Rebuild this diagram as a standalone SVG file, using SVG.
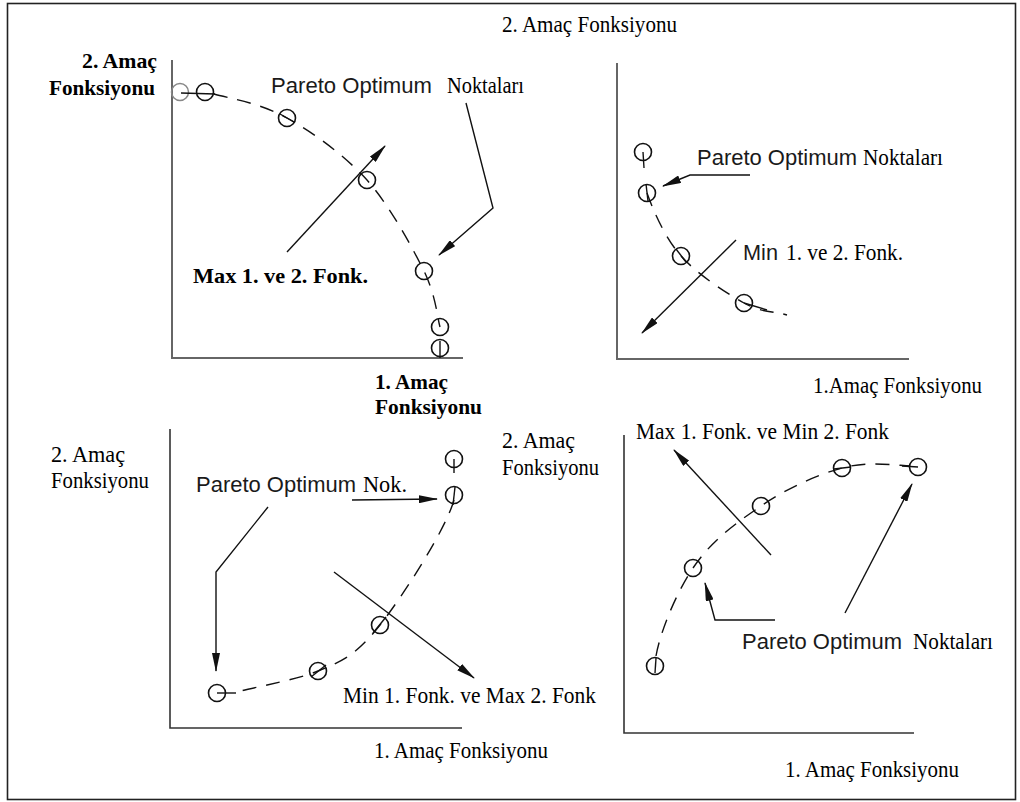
<svg xmlns="http://www.w3.org/2000/svg" width="1020" height="802" viewBox="0 0 1020 802">
<defs>
<style>
.s{font-family:"Liberation Serif","Times New Roman",serif;font-size:22.5px;fill:#000}
.b{font-weight:bold;font-size:22px}
.a{font-family:"Liberation Sans",Arial,sans-serif;font-size:22px;fill:#1a1a1a}
.ax1{stroke:#666;stroke-width:2;fill:none}
.ax2{stroke:#333;stroke-width:1.6;fill:none}
.crv{stroke:#111;stroke-width:1.4;fill:none;stroke-dasharray:14 10}
.pt{stroke:#111;stroke-width:1.6;fill:none}
.in{stroke:#111;stroke-width:1.4;fill:none}
.arr{stroke:#111;stroke-width:1.4;fill:none;marker-end:url(#ah)}
</style>
<marker id="ah" markerWidth="19" markerHeight="8" refX="18" refY="4" orient="auto" markerUnits="userSpaceOnUse">
<path d="M0,0 L19,4 L0,8 z" fill="#111"/>
</marker>
</defs>
<rect x="7.5" y="3.5" width="1008" height="796" fill="#fff" stroke="#222" stroke-width="1.6"/>

<!-- Top-left chart -->
<g id="chart-tl">
<path class="ax1" d="M172,60 V358 H463"/>
<path class="crv" d="M214,94 C232,99 260,103 287,118 C314,133 344,155 367,180 C390,206 412,247 424,271 C436,296 437,316 440,327"/>
<g id="tl-points">
<circle cx="180" cy="92" r="8.5" fill="none" stroke="#888" stroke-width="1.5"/>
<circle class="pt" cx="205" cy="92" r="8.5"/>
<line class="in" x1="181" y1="93" x2="215" y2="94"/>
<circle class="pt" cx="287" cy="118" r="8.5"/>
<line class="in" x1="280" y1="114" x2="294" y2="122"/>
<circle class="pt" cx="367" cy="180" r="8.5"/>
<circle class="pt" cx="424" cy="271" r="8.5"/>
<circle class="pt" cx="440" cy="327" r="8.5"/>
<circle class="pt" cx="440" cy="348" r="8.5"/>
<line class="in" x1="440" y1="341" x2="440" y2="358"/>
</g>
<g id="tl-labels">
<text class="s b" x="82" y="68" textLength="75" lengthAdjust="spacingAndGlyphs">2. Amaç</text>
<text class="s b" x="49" y="95" textLength="106" lengthAdjust="spacingAndGlyphs">Fonksiyonu</text>
<text class="a" x="271" y="93" textLength="161" lengthAdjust="spacingAndGlyphs">Pareto Optimum</text>
<text class="s" x="447" y="93" textLength="77" lengthAdjust="spacingAndGlyphs">Noktaları</text>
<text class="s b" x="193" y="283" textLength="175" lengthAdjust="spacingAndGlyphs">Max 1. ve 2. Fonk.</text>
<text class="s b" x="375" y="389" textLength="73" lengthAdjust="spacingAndGlyphs">1. Amaç</text>
<text class="s b" x="375" y="414" textLength="107" lengthAdjust="spacingAndGlyphs">Fonksiyonu</text>
</g>
</g>

<!-- Top-right chart -->
<g id="chart-tr">
<path class="ax1" d="M617,63 V359 H909"/>
<path class="crv" d="M647,193 C653,210 665,238 681,256 C697,274 726,293 744,303 C762,313 773,311 787,315"/>
<g id="tr-points">
<circle class="pt" cx="643" cy="152" r="8.5"/>
<line class="in" x1="643" y1="152" x2="644" y2="168"/>
<circle class="pt" cx="647" cy="193" r="8.5"/>
<line class="in" x1="646" y1="184" x2="648" y2="201"/>
<circle class="pt" cx="681" cy="256" r="8.5"/>
<line class="in" x1="676" y1="249" x2="686" y2="262"/>
<circle class="pt" cx="744" cy="303" r="8.5"/>
<line class="in" x1="744" y1="303" x2="767" y2="310"/>
</g>
<g id="tr-labels">
<text class="s" x="502" y="32" textLength="175" lengthAdjust="spacingAndGlyphs">2. Amaç Fonksiyonu</text>
<text class="a" x="697" y="165" textLength="160" lengthAdjust="spacingAndGlyphs">Pareto Optimum</text>
<text class="s" x="863" y="165" textLength="80" lengthAdjust="spacingAndGlyphs">Noktaları</text>
<text class="a" x="743" y="260" textLength="35" lengthAdjust="spacingAndGlyphs">Min</text>
<text class="s" x="786" y="260" textLength="117" lengthAdjust="spacingAndGlyphs">1. ve 2. Fonk.</text>
<text class="s" x="813" y="393" textLength="169" lengthAdjust="spacingAndGlyphs">1.Amaç Fonksiyonu</text>
</g>
</g>

<!-- Bottom-left chart -->
<g id="chart-bl">
<path class="ax2" d="M170,429 V728 H462"/>
<path class="crv" d="M454,500 C446,529 403,596 380,625 C357,654 345,660 318,671 C291,682 237,690 236,693"/>
<g id="bl-points">
<circle class="pt" cx="454" cy="459" r="8.5"/>
<line class="in" x1="454" y1="459" x2="454" y2="473"/>
<circle class="pt" cx="454" cy="495" r="8.5"/>
<line class="in" x1="455" y1="487" x2="453" y2="505"/>
<circle class="pt" cx="380" cy="625" r="8.5"/>
<line class="in" x1="386" y1="617" x2="373" y2="633"/>
<circle class="pt" cx="318" cy="671" r="8.5"/>
<line class="in" x1="326" y1="665" x2="311" y2="677"/>
<circle class="pt" cx="217" cy="693" r="8.5"/>
<line class="in" x1="217" y1="693" x2="236" y2="693"/>
</g>
<g id="bl-labels">
<text class="s" x="51" y="462" textLength="74" lengthAdjust="spacingAndGlyphs">2. Amaç</text>
<text class="s" x="51" y="488" textLength="98" lengthAdjust="spacingAndGlyphs">Fonksiyonu</text>
<text class="a" x="196" y="492" textLength="160" lengthAdjust="spacingAndGlyphs">Pareto Optimum</text>
<text class="s" x="363" y="492" textLength="44" lengthAdjust="spacingAndGlyphs">Nok.</text>
<text class="s" x="502" y="448" textLength="73" lengthAdjust="spacingAndGlyphs">2. Amaç</text>
<text class="s" x="502" y="475" textLength="97" lengthAdjust="spacingAndGlyphs">Fonksiyonu</text>
<text class="s" x="343" y="703" textLength="253" lengthAdjust="spacingAndGlyphs">Min 1. Fonk. ve Max 2. Fonk</text>
<text class="s" x="374" y="758" textLength="174" lengthAdjust="spacingAndGlyphs">1. Amaç Fonksiyonu</text>
</g>
</g>

<!-- Bottom-right chart -->
<g id="chart-br">
<path class="ax2" d="M624,435 V733 H914"/>
<path class="crv" d="M656,656 C660,633 675,595 693,568 C711,541 736,523 761,506 C786,489 816,475 842,468 C868,461 893,465 910,466"/>
<g id="br-points">
<circle class="pt" cx="655" cy="666" r="8.5"/>
<line class="in" x1="656" y1="658" x2="655" y2="673"/>
<circle class="pt" cx="693" cy="568" r="8.5"/>
<circle class="pt" cx="761" cy="506" r="8.5"/>
<circle class="pt" cx="842" cy="468" r="8.5"/>
<line class="in" x1="834" y1="469" x2="851" y2="467"/>
<circle class="pt" cx="918" cy="467" r="8.5"/>
<line class="in" x1="902" y1="466" x2="918" y2="467"/>
</g>
<g id="br-labels">
<text class="s" x="636" y="439" textLength="253" lengthAdjust="spacingAndGlyphs">Max 1. Fonk. ve Min 2. Fonk</text>
<text class="a" x="742" y="649" textLength="160" lengthAdjust="spacingAndGlyphs">Pareto Optimum</text>
<text class="s" x="913" y="649" textLength="80" lengthAdjust="spacingAndGlyphs">Noktaları</text>
<text class="s" x="785" y="777" textLength="174" lengthAdjust="spacingAndGlyphs">1. Amaç Fonksiyonu</text>
</g>
</g>

<!-- Connectors / arrows -->
<g id="connectors">
<path class="arr" d="M287,252 L385,146"/>
<path class="arr" d="M466,103 L493,208 L439,255"/>
<path class="arr" d="M750,175 L690,175 L663,186"/>
<path class="arr" d="M736,240 L642,333"/>
<path class="arr" d="M268,507 L216,572 L216,671"/>
<path class="arr" d="M352,500 L437,499"/>
<path class="arr" d="M334,572 L474,678"/>
<path class="arr" d="M771,555 L674,450"/>
<path class="arr" d="M775,620 L715,620 L705,583"/>
<path class="arr" d="M845,613 L912,484"/>
</g>
</svg>
